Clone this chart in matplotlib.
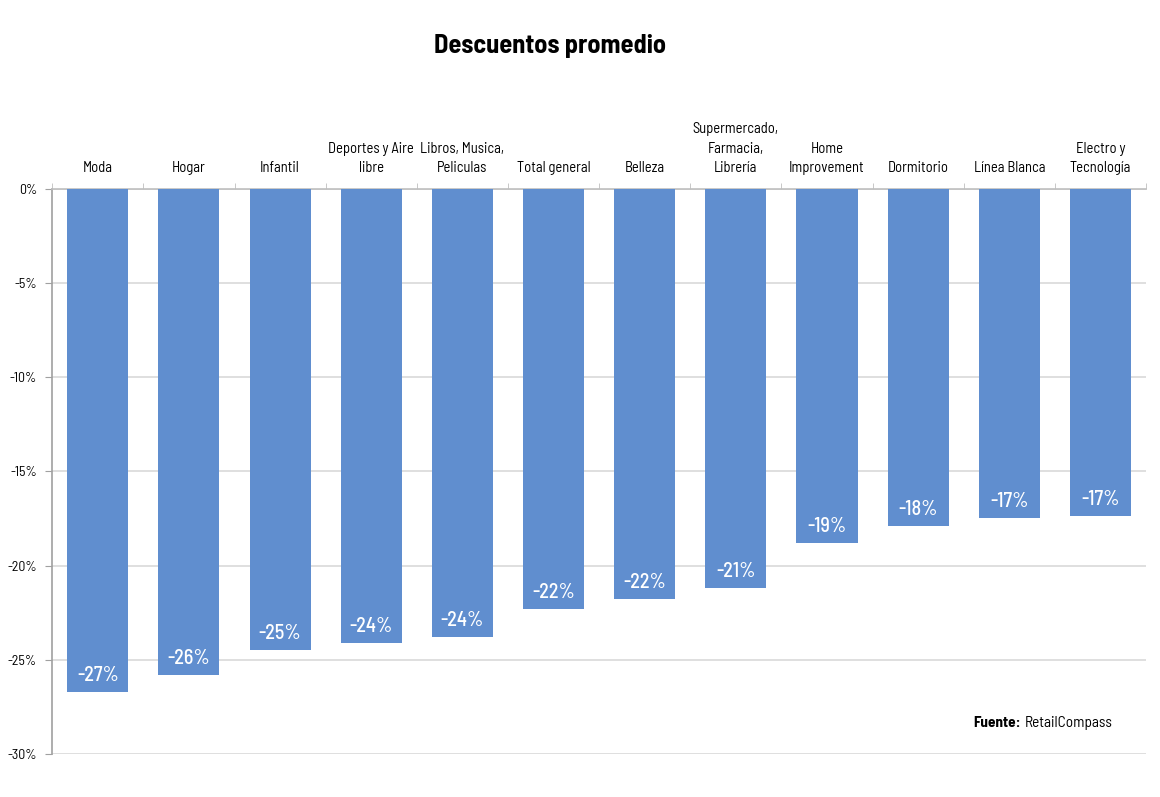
import matplotlib
matplotlib.use("Agg")
import matplotlib.pyplot as plt
import numpy as np
from matplotlib import font_manager

# --- data ---
categorias = ["Moda", "Hogar", "Infantil", "Deportes y Aire\nlibre", "Libros, Musica,\nPeliculas",
              "Total general", "Belleza", "Supermercado,\nFarmacia,\nLibrería", "Home\nImprovement",
              "Dormitorio", "Línea Blanca", "Electro y\nTecnología"]
descuentos = [-26.7, -25.8, -24.5, -24.1, -23.8, -22.3, -21.75, -21.2, -18.8, -17.9, -17.45, -17.35]
y_ticks = [0, -5, -10, -15, -20, -25, -30]

# --- font: condensed if available, else a narrow-ish one ---
names = {f.name for f in font_manager.fontManager.ttflist}
fam = ["DejaVu Sans"]
for cand in ["Barlow Semi Condensed", "Roboto Condensed", "Liberation Sans Narrow",
             "Open Sans Condensed", "Noto Sans Condensed", "DejaVu Sans Condensed", "Roboto"]:
    if cand in names:
        fam = [cand, "DejaVu Sans"]
        break
plt.rcParams["font.family"] = fam

BAR = "#608ECF"

fig = plt.figure(figsize=(11.6, 7.97), dpi=100)
ax = fig.add_axes([0.045, 0.054, 0.943, 0.709])

x = np.arange(len(categorias))
bars = ax.bar(x, descuentos, width=0.67, color=BAR, zorder=3)

for b, v in zip(bars, descuentos):
    lab = -int(abs(v) + 0.5)  # round half away from zero, like Excel
    ax.annotate(f"{lab}%", (b.get_x() + b.get_width() / 2, v),
                xytext=(0, 5), textcoords="offset points",
                ha="center", va="bottom", color="white", fontsize=14.5,
                fontweight="medium", zorder=4)

ax.set_xlim(-0.5, len(categorias) - 0.5)
ax.set_ylim(-30, 0)
ax.set_yticks(y_ticks)
ax.set_yticklabels([f"{t}%" for t in y_ticks], fontsize=10)
ax.yaxis.grid(True, color="#D9D9D9", linewidth=1.2, zorder=0)

ax.xaxis.tick_top()
ax.set_xticks(x)
ax.set_xticklabels(categorias, fontsize=10.5, linespacing=1.5)
ax.tick_params(axis="x", length=0, pad=10)
ax.set_xticks(np.arange(len(categorias) + 1) - 0.5, minor=True)
ax.tick_params(axis="x", which="minor", length=4, color="#BFBFBF", top=True)
ax.tick_params(axis="y", length=5, color="#A0A0A0", pad=6)

for s in ["right", "bottom"]:
    ax.spines[s].set_visible(False)
ax.spines["left"].set_color("#A0A0A0")
ax.spines["left"].set_linewidth(1.2)
ax.spines["top"].set_color("#BFBFBF")
ax.spines["top"].set_linewidth(1.2)

fig.text(0.474, 0.942, "Descuentos promedio", ha="center", va="center",
         fontsize=19, fontweight="bold")
t2 = fig.text(0.959, 0.093, "RetailCompass", ha="right", va="center", fontsize=11)
fig.canvas.draw()
bb = t2.get_window_extent()
fig.text(bb.x0 / fig.bbox.width - 0.003, 0.093, "Fuente:", ha="right", va="center",
         fontsize=11, fontweight="bold")

fig.savefig("out.png", dpi=100)
